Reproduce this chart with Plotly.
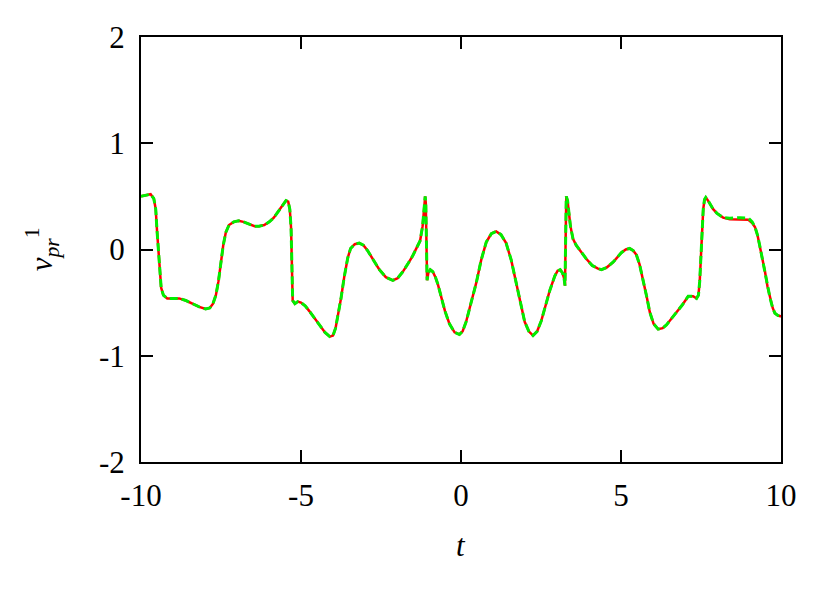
import plotly.graph_objects as go

# ---- data ----
t = [-10.00, -9.85, -9.70, -9.60, -9.54, -9.50, -9.46, -9.42, -9.37, -9.30,
     -9.18, -9.00, -8.81, -8.60, -8.39, -8.18, -7.98, -7.85, -7.75, -7.66,
     -7.58, -7.51, -7.43, -7.35, -7.25, -7.10, -6.95, -6.80, -6.62, -6.45,
     -6.31, -6.15, -5.99, -5.85, -5.73, -5.60, -5.47, -5.40, -5.35, -5.31,
     -5.28, -5.26, -5.19, -5.10, -5.00, -4.87, -4.74, -4.60, -4.43, -4.25,
     -4.10, -4.00, -3.92, -3.85, -3.75, -3.65, -3.54, -3.45, -3.32, -3.18,
     -3.05, -2.92, -2.75, -2.55, -2.35, -2.13, -1.98, -1.82, -1.65, -1.51,
     -1.38, -1.28, -1.20, -1.15, -1.12, -1.10, -1.08, -1.06, -1.02, -0.96,
     -0.88, -0.80, -0.72, -0.62, -0.50, -0.36, -0.20, -0.05, 0.05, 0.16,
     0.30, 0.48, 0.63, 0.79, 0.95, 1.10, 1.25, 1.41, 1.57, 1.73,
     1.88, 1.99, 2.12, 2.25, 2.38, 2.51, 2.65, 2.77, 2.93, 3.02,
     3.10, 3.17, 3.22, 3.25, 3.27, 3.29, 3.33, 3.37, 3.42, 3.50,
     3.60, 3.75, 3.92, 4.10, 4.28, 4.39, 4.55, 4.75, 4.90, 5.01,
     5.15, 5.27, 5.38, 5.48, 5.58, 5.69, 5.80, 5.90, 6.02, 6.16,
     6.30, 6.42, 6.58, 6.74, 6.92, 7.10, 7.25, 7.36, 7.42, 7.46,
     7.50, 7.53, 7.57, 7.61, 7.65, 7.72, 7.80, 7.88, 8.00, 8.19,
     8.40, 8.72, 8.98, 9.10, 9.19, 9.27, 9.34, 9.42, 9.50, 9.58,
     9.66, 9.74, 9.81, 9.90, 10.00]

v_exact = [0.50, 0.51, 0.52, 0.48, 0.38, 0.18, 0.00, -0.22, -0.36, -0.43,
           -0.46, -0.46, -0.46, -0.48, -0.51, -0.54, -0.56, -0.55, -0.51, -0.43,
           -0.30, -0.12, 0.04, 0.16, 0.23, 0.26, 0.27, 0.26, 0.24, 0.22,
           0.22, 0.23, 0.26, 0.30, 0.35, 0.41, 0.46, 0.45, 0.38, 0.20,
           -0.20, -0.48, -0.51, -0.49, -0.50, -0.53, -0.58, -0.64, -0.71, -0.78,
           -0.82, -0.81, -0.74, -0.63, -0.46, -0.26, -0.08, 0.01, 0.05, 0.06,
           0.04, -0.01, -0.09, -0.19, -0.26, -0.29, -0.27, -0.21, -0.13, -0.06,
           0.02, 0.08, 0.22, 0.40, 0.50, 0.44, 0.10, -0.29, -0.22, -0.19,
           -0.21, -0.26, -0.33, -0.45, -0.58, -0.70, -0.78, -0.80, -0.77, -0.68,
           -0.52, -0.31, -0.10, 0.07, 0.15, 0.17, 0.14, 0.06, -0.10, -0.31,
           -0.53, -0.68, -0.77, -0.81, -0.77, -0.67, -0.52, -0.39, -0.25, -0.20,
           -0.19, -0.22, -0.27, -0.34, 0.10, 0.50, 0.46, 0.37, 0.22, 0.10,
           0.04, -0.02, -0.09, -0.15, -0.18, -0.19, -0.17, -0.12, -0.07, -0.03,
           0.00, 0.01, -0.01, -0.05, -0.14, -0.28, -0.44, -0.59, -0.70, -0.75,
           -0.74, -0.71, -0.65, -0.58, -0.52, -0.44, -0.44, -0.46, -0.43, -0.30,
           -0.08, 0.10, 0.38, 0.47, 0.49, 0.46, 0.42, 0.38, 0.34, 0.30,
           0.285, 0.28, 0.28, 0.25, 0.21, 0.13, 0.03, -0.09, -0.21, -0.35,
           -0.46, -0.55, -0.60, -0.62, -0.63]

v_approx = [0.50, 0.51, 0.52, 0.48, 0.38, 0.18, 0.00, -0.22, -0.36, -0.43,
            -0.46, -0.46, -0.46, -0.48, -0.51, -0.54, -0.56, -0.55, -0.51, -0.43,
            -0.30, -0.12, 0.04, 0.16, 0.23, 0.26, 0.27, 0.26, 0.24, 0.22,
            0.22, 0.23, 0.26, 0.30, 0.35, 0.41, 0.46, 0.45, 0.38, 0.20,
            -0.20, -0.48, -0.51, -0.49, -0.50, -0.53, -0.58, -0.64, -0.71, -0.78,
            -0.82, -0.81, -0.74, -0.63, -0.46, -0.26, -0.08, 0.01, 0.05, 0.06,
            0.04, -0.01, -0.09, -0.19, -0.26, -0.29, -0.27, -0.21, -0.13, -0.06,
            0.02, 0.08, 0.22, 0.40, 0.50, 0.44, 0.10, -0.29, -0.22, -0.19,
            -0.21, -0.26, -0.33, -0.45, -0.58, -0.70, -0.78, -0.80, -0.77, -0.68,
            -0.52, -0.31, -0.10, 0.07, 0.15, 0.17, 0.14, 0.06, -0.10, -0.31,
            -0.53, -0.68, -0.77, -0.81, -0.77, -0.67, -0.52, -0.39, -0.25, -0.20,
            -0.19, -0.22, -0.27, -0.34, 0.10, 0.50, 0.46, 0.37, 0.22, 0.10,
            0.04, -0.02, -0.09, -0.15, -0.18, -0.19, -0.17, -0.12, -0.07, -0.03,
            0.00, 0.01, -0.01, -0.05, -0.14, -0.28, -0.44, -0.59, -0.70, -0.75,
            -0.74, -0.71, -0.65, -0.58, -0.52, -0.44, -0.44, -0.46, -0.43, -0.30,
            -0.08, 0.10, 0.38, 0.47, 0.49, 0.46, 0.42, 0.38, 0.34, 0.30,
            0.295, 0.30, 0.295, 0.26, 0.21, 0.13, 0.03, -0.09, -0.21, -0.35,
            -0.46, -0.55, -0.60, -0.62, -0.63]

x_ticks = [-10, -5, 0, 5, 10]
x_tick_labels = ["-10", "-5", "0", "5", "10"]
y_ticks = [-2, -1, 0, 1, 2]
y_tick_labels = ["-2", "-1", "0", "1", "2"]

FONT = "Liberation Serif, Times New Roman, serif"
FS = 31

fig = go.Figure()
fig.add_trace(go.Scatter(x=t, y=v_exact, mode="lines",
                         line=dict(color="#ff0000", width=2.5),
                         showlegend=False, hoverinfo="skip"))
fig.add_trace(go.Scatter(x=t, y=v_approx, mode="lines",
                         line=dict(color="#00ee00", width=3, dash="8px,4px"),
                         showlegend=False, hoverinfo="skip"))

axis_common = dict(showline=True, linecolor="black", linewidth=2, mirror="ticks",
                   ticks="inside", ticklen=12, tickwidth=2, tickcolor="black",
                   showgrid=False, zeroline=False,
                   tickfont=dict(family=FONT, size=FS, color="black"))

fig.update_xaxes(range=[-10, 10], tickvals=x_ticks, ticktext=x_tick_labels,
                 ticklabelstandoff=5, **axis_common)
fig.update_yaxes(range=[-2, 2], tickvals=y_ticks, ticktext=y_tick_labels,
                 ticklabelstandoff=8, **axis_common)

# page body adds an 8px offset, compensated in the margins
fig.update_layout(
    width=830, height=594,
    margin=dict(l=133, r=57, t=25, b=140),
    paper_bgcolor="white", plot_bgcolor="white",
    font=dict(family=FONT, size=FS, color="black"),
    annotations=[
        dict(text="<i>t</i>", xref="paper", yref="paper", x=0.5, y=-0.196,
             xanchor="center", yanchor="middle", showarrow=False,
             font=dict(family=FONT, size=FS, color="black")),
        dict(text="<i>v</i><sub><i>pr</i></sub><sup>1</sup>", xref="paper", yref="paper",
             x=-0.155, y=0.5, xanchor="center", yanchor="middle", textangle=-90,
             showarrow=False, font=dict(family=FONT, size=FS, color="black")),
    ],
)

fig.write_html("out.html")
